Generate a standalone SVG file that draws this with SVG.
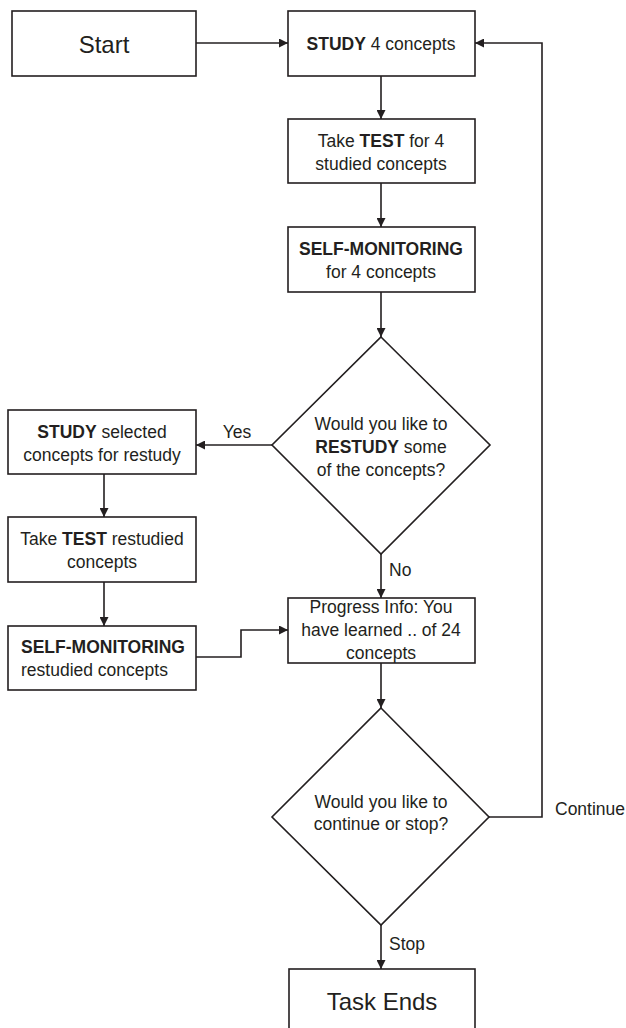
<svg xmlns="http://www.w3.org/2000/svg" width="626" height="1028" viewBox="0 0 626 1028">
<defs>
<style>
.box{fill:#fff;stroke:#231f20;stroke-width:1.6}
.t{font-family:"Liberation Sans",Arial,sans-serif;font-size:17.5px;fill:#231f20;text-anchor:middle}
.l{text-anchor:start}
.big{font-size:24px}
.b{font-weight:bold}
.c{fill:none;stroke:#231f20;stroke-width:1.6}
</style>
<marker id="ah" viewBox="0 0 10 10" refX="10" refY="5" markerWidth="9" markerHeight="9" markerUnits="userSpaceOnUse" orient="auto">
<path d="M0,0 L10,5 L0,10 z" fill="#231f20"/>
</marker>
</defs>
<rect width="626" height="1028" fill="#fff"/>
<g id="connectors">
<path class="c" d="M196,43 H288" marker-end="url(#ah)"/>
<path class="c" d="M489,817 H542 V43 H475" marker-end="url(#ah)"/>
<path class="c" d="M381,76 V119" marker-end="url(#ah)"/>
<path class="c" d="M381,183 V227" marker-end="url(#ah)"/>
<path class="c" d="M381,292 V337" marker-end="url(#ah)"/>
<path class="c" d="M381,554 V598" marker-end="url(#ah)"/>
<path class="c" d="M381,663 V708" marker-end="url(#ah)"/>
<path class="c" d="M381,925 V969" marker-end="url(#ah)"/>
<path class="c" d="M272,445 H196" marker-end="url(#ah)"/>
<path class="c" d="M104,474 V517" marker-end="url(#ah)"/>
<path class="c" d="M104,582 V626" marker-end="url(#ah)"/>
<path class="c" d="M196,657 H241 V630 H288" marker-end="url(#ah)"/>
<text class="t" x="237" y="438">Yes</text>
<text class="t l" x="389" y="576">No</text>
<text class="t l" x="555" y="815">Continue</text>
<text class="t l" x="389" y="950">Stop</text>
</g>
<g id="start">
<rect class="box" x="12" y="11" width="184" height="65"/>
<text class="t big" x="104" y="53">Start</text>
</g>
<g id="study">
<rect class="box" x="288" y="11" width="187" height="65"/>
<text class="t" x="381" y="50"><tspan class="b">STUDY</tspan> 4 concepts</text>
</g>
<g id="test">
<rect class="box" x="288" y="119" width="187" height="64"/>
<text class="t" x="381" y="147">Take <tspan class="b">TEST</tspan> for 4</text>
<text class="t" x="381" y="170">studied concepts</text>
</g>
<g id="selfmon">
<rect class="box" x="288" y="227" width="187" height="65"/>
<text class="t b" x="381" y="255">SELF-MONITORING</text>
<text class="t" x="381" y="278">for 4 concepts</text>
</g>
<g id="restudy-decision">
<polygon class="box" points="381,337 490,445 381,554 272,445"/>
<text class="t" x="381" y="430">Would you like to</text>
<text class="t" x="381" y="453"><tspan class="b">RESTUDY</tspan> some</text>
<text class="t" x="381" y="476">of the concepts?</text>
</g>
<g id="study-selected">
<rect class="box" x="8" y="410" width="188" height="64"/>
<text class="t" x="102" y="438"><tspan class="b">STUDY</tspan> selected</text>
<text class="t" x="102" y="461">concepts for restudy</text>
</g>
<g id="test-restudied">
<rect class="box" x="8" y="517" width="188" height="65"/>
<text class="t" x="102" y="545">Take <tspan class="b">TEST</tspan> restudied</text>
<text class="t" x="102" y="568">concepts</text>
</g>
<g id="selfmon-restudied">
<rect class="box" x="8" y="626" width="188" height="64"/>
<text class="t l b" x="21" y="653">SELF-MONITORING</text>
<text class="t l" x="21" y="676">restudied concepts</text>
</g>
<g id="progress">
<rect class="box" x="288" y="598" width="187" height="65"/>
<text class="t" x="381" y="613">Progress Info: You</text>
<text class="t" x="381" y="636">have learned .. of 24</text>
<text class="t" x="381" y="659">concepts</text>
</g>
<g id="continue-decision">
<polygon class="box" points="381,708 489,817 381,925 272,817"/>
<text class="t" x="381" y="808">Would you like to</text>
<text class="t" x="381" y="830">continue or stop?</text>
</g>
<g id="task-ends">
<rect class="box" x="289" y="969" width="186" height="70"/>
<text class="t big" x="382" y="1010">Task Ends</text>
</g>
</svg>
